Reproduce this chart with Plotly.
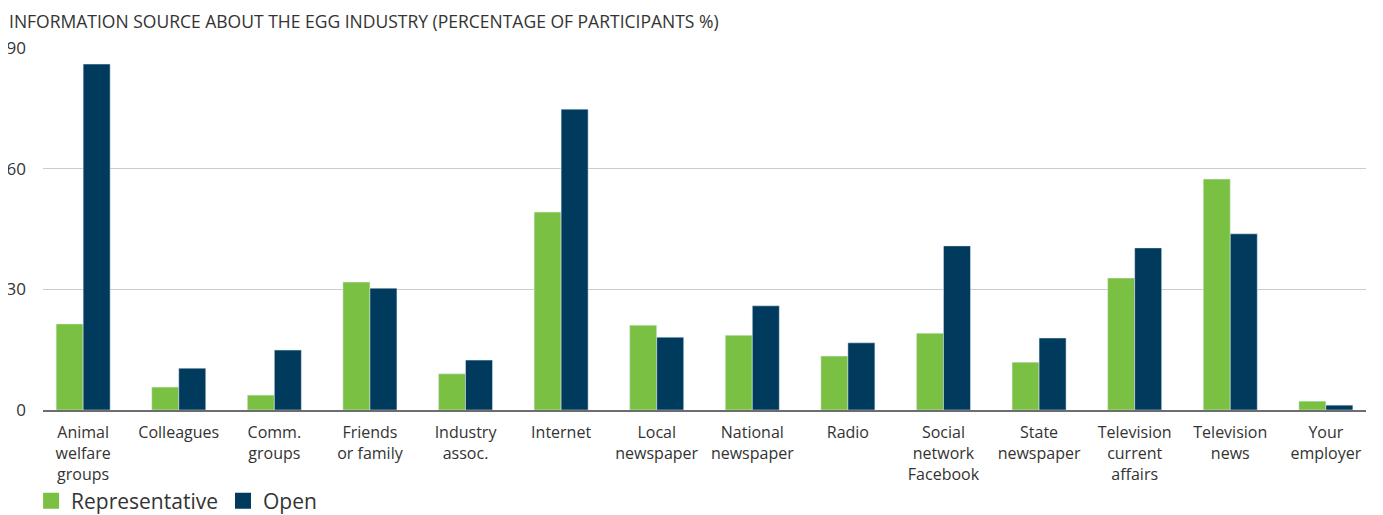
import plotly.graph_objects as go

categories = ["Animal<br>welfare<br>groups", "Colleagues", "Comm.<br>groups", "Friends<br>or family",
              "Industry<br>assoc.", "Internet", "Local<br>newspaper", "National<br>newspaper", "Radio",
              "Social<br>network<br>Facebook", "State<br>newspaper", "Television<br>current<br>affairs",
              "Television<br>news", "Your<br>employer"]
representative = [21.4, 5.7, 3.7, 31.8, 9.0, 49.2, 21.1, 18.6, 13.4, 19.1, 11.9, 32.8, 57.4, 2.2]
open_ = [86.0, 10.4, 14.9, 30.3, 12.4, 74.8, 18.1, 25.9, 16.7, 40.8, 17.9, 40.3, 43.8, 1.2]
y_ticks = [0, 30, 60, 90]

FONT = "Open Sans"
TXT = "#333333"
GREEN = "#7ac143"
NAVY = "#003a5d"

W, H = 1375, 507
ML, MR, MT, MB = 35, 17, 40, 105
PH = H - MT - MB

fig = go.Figure()
fig.add_trace(go.Bar(x=categories, y=representative, name="Representative", marker_color=GREEN,
                     showlegend=False))
fig.add_trace(go.Bar(x=categories, y=open_, name="Open", marker_color=NAVY, showlegend=False))
# legend entries with larger square swatches
fig.add_trace(go.Scatter(x=[None], y=[None], mode="markers", name="Representative",
                         marker=dict(symbol="square", size=18, color=GREEN)))
fig.add_trace(go.Scatter(x=[None], y=[None], mode="markers", name="Open",
                         marker=dict(symbol="square", size=18, color=NAVY)))

fig.update_layout(
    width=W, height=H,
    margin=dict(l=ML, r=MR, t=MT, b=MB, autoexpand=False),
    paper_bgcolor="white", plot_bgcolor="white",
    barmode="group", bargap=0.435, bargroupgap=0,
    font=dict(family=FONT, color=TXT, size=16),
    legend=dict(orientation="h", x=-0.009, xanchor="left", y=(H - MB - 493) / PH, yanchor="middle",
                font=dict(size=21, color=TXT), itemsizing="trace", traceorder="normal",
                tracegroupgap=0, bgcolor="rgba(0,0,0,0)"),
    showlegend=True,
)
fig.add_annotation(text="INFORMATION SOURCE ABOUT THE EGG INDUSTRY (PERCENTAGE OF PARTICIPANTS %)",
                   xref="paper", yref="paper", x=(0 - ML) / (W - ML - MR), y=(H - MB) / PH,
                   xanchor="left", yanchor="top", showarrow=False, borderpad=0,
                   font=dict(family=FONT, size=17.5, color=TXT))
fig.update_xaxes(range=[-0.42, 13.42], showline=True, linecolor="#6d6d6d", linewidth=2,
                 tickfont=dict(size=16, color=TXT), ticks="", tickangle=0, ticklabelstandoff=7,
                 automargin=False)
fig.update_yaxes(range=[0, 90], tickvals=y_ticks, showgrid=True, gridcolor="#cccccc", gridwidth=1,
                 zeroline=False, tickfont=dict(size=17, color=TXT), ticklabelstandoff=16,
                 automargin=False, fixedrange=True)

fig.write_html("out.html")
